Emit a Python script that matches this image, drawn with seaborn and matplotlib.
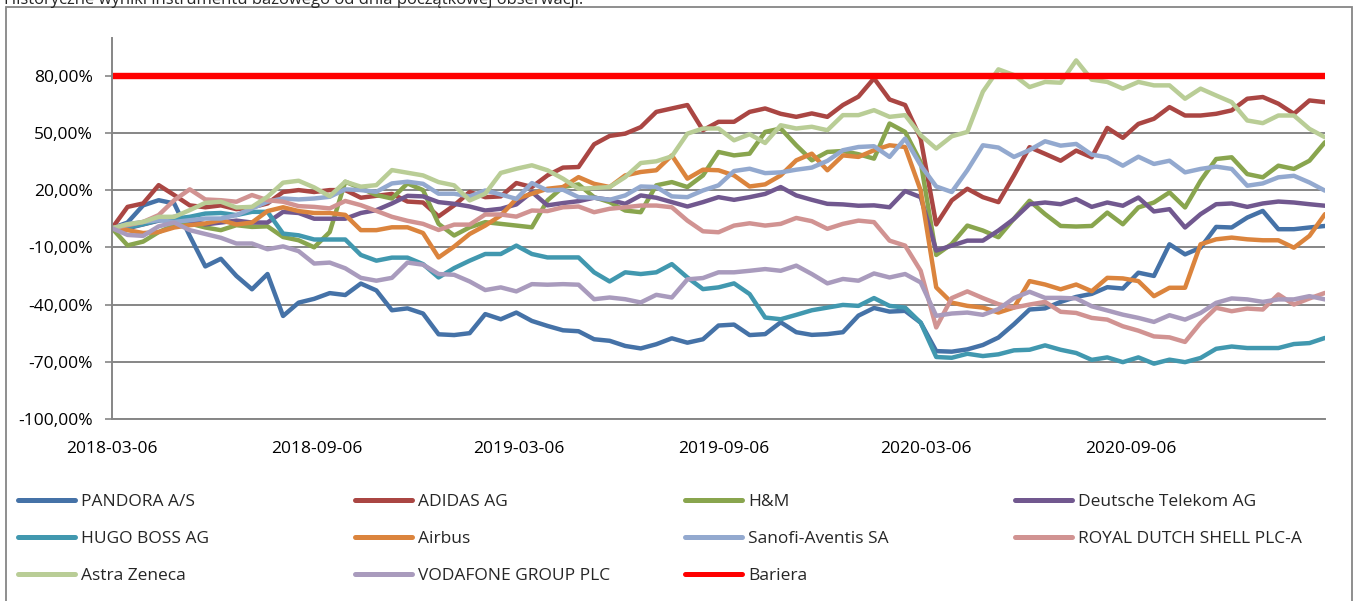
import numpy as np
import pandas as pd
import matplotlib
matplotlib.use("Agg")
import matplotlib.pyplot as plt
from matplotlib.lines import Line2D
from matplotlib.patches import Rectangle
from matplotlib.ticker import FuncFormatter
import seaborn as sns

# ---------------- data ----------------
START_DATE = "2018-03-06"
END_DATE = "2021-02-27"
N_POINTS = 79

series_names = ["PANDORA A/S", "ADIDAS AG", "H&M", "Deutsche Telekom AG",
                "HUGO BOSS AG", "Airbus", "Sanofi-Aventis SA", "ROYAL DUTCH SHELL PLC-A",
                "Astra Zeneca", "VODAFONE GROUP PLC"]
barrier_name = "Bariera"
barrier_level = 80.0

pandora = [0, 3, 12, 14.7, 13, -4, -20, -16, -25, -32, -24, -46, -39, -37, -34, -35, -29, -32.6, -43, -42,
           -44.7, -55.6, -56, -55, -45, -47.7, -44.2, -48.6, -51.2, -53.5, -54, -58.2, -59, -61.7, -63, -60.8, -57.7, -60, -58.2, -51,
           -50.5, -56, -55.5, -49.3, -54.5, -55.9, -55.5, -54.5, -45.8, -41.8, -43.7, -43.3, -49.5, -64.4, -64.7, -63.5, -61.2, -57.3, -50.3,
           -42.6, -42, -38.6, -36, -34.4, -30.9, -31.6, -23.3, -25, -8.4, -13.7, -10.2, 0.7, 0.4, 5.6, 9.1, -0.5, -0.5, 0.4, 1.2]
adidas = [0, 11.2, 13, 22.6, 17.4, 12, 11, 12, 10, 11, 13, 19, 20, 19, 20, 20, 16, 17, 18, 14,
          13.5, 6.2, 12, 19, 16.3, 16.7, 23.7, 21.6, 27.7, 31.8, 32.1, 44, 48.4, 49.6, 53, 61, 62.8, 64.6, 51.4, 55.8,
          55.8, 61, 62.8, 60, 58.4, 60.2, 58.4, 64.6, 69, 78.6, 67.5, 64.6, 47, 2, 14.6, 20.7, 16.3, 13.7, 27.7,
          42.5, 39, 35.4, 40.7, 37.2, 52.6, 47.4, 54.7, 57.4, 63.5, 59.1, 59.1, 60, 61.8, 67.9, 68.8, 65.3, 60, 67, 66.1]
hm = [0, -9, -7, -2, 1.6, 2.5, 0.4, -1, 1.6, 0.7, 1, -4.6, -6.3, -10, -2, 24.4, 21, 17.4, 15.6, 23.5,
      20, 2.3, -3.8, 0.5, 3.2, 2.3, 1.4, 0.5, 14.6, 21.6, 23, 16.3, 13.7, 9.3, 8.4, 22.5, 24.2, 21.6, 27.7, 40,
      38.2, 39.1, 50.5, 52.3, 43.5, 35.6, 40, 40.5, 38.8, 36.5, 54.9, 50.5, 34.7, -14, -8.2, 1.4, -1.2, -4.7, 5,
      14.4, 7.4, 1.2, 0.9, 1.2, 8.2, 2.1, 10.9, 13.5, 18.8, 10.9, 24.9, 36.3, 37.2, 28.4, 26.7, 32.8, 31.1, 35.4, 45.1]
telekom = [0, 0, 2, 4, 6, 4, 2, 3, 4, 3, 3, 8.6, 8, 5, 5, 5, 8, 9.5, 13, 17,
           16.7, 13.7, 12.8, 11.4, 9.3, 10.2, 12.5, 19, 12, 13.2, 14.2, 16, 14.9, 12.8, 17.2, 16, 13.7, 11.4, 13.7, 16.3,
           14.9, 16.3, 18, 21.6, 17.2, 14.9, 12.8, 12.5, 11.8, 12, 11, 19.5, 16.3, -11.7, -9.1, -6.5, -6.5, -1.2, 4.9,
           12.6, 13.5, 12.6, 15.3, 11.2, 13.5, 11.8, 16.1, 8.8, 10, 0.4, 7.4, 12.6, 13, 11.2, 13, 14, 13.5, 12.6, 11.8]
hugo_boss = [0, 0.4, 2.1, 4.2, 5, 6, 7.7, 8, 6.9, 8.6, 8.6, -2.8, -3.7, -5.9, -5.9, -5.9, -14, -17, -15.4, -15.4,
             -18.8, -25.8, -20.9, -17, -13.5, -13.5, -9.1, -13.5, -15.3, -15.3, -15.3, -23.1, -27.9, -23.1, -24, -23.1, -18.8, -25.8, -31.9, -31,
             -28.9, -34.5, -46.8, -47.7, -45.4, -43, -41.6, -40.2, -40.7, -36.6, -40.7, -41.6, -49.5, -67.5, -67.9, -65.8, -67, -66.1, -64,
             -63.7, -61.4, -63.7, -65.4, -69, -67.7, -70.2, -67.7, -71, -68.9, -70.2, -68, -63.2, -62, -62.8, -62.8, -62.8, -60.7, -60.2, -57.5]
airbus = [0, -1, -2.5, -2, 0.4, 1.6, 2.5, 4.2, 2, 3, 9, 11, 9, 8, 8, 7, -1, -1, 0.5, 0.5,
          -2.5, -15.3, -9.6, -3, 1.4, 6.7, 15.4, 18.1, 20.7, 21.6, 26.8, 23.3, 21.6, 27.7, 29.5, 30.4, 38.2, 26, 30.7, 30.4,
          27.7, 21.9, 23, 27.7, 35.6, 39.1, 30.4, 38.2, 37.4, 40.9, 43.5, 42.6, 19.8, -31, -39, -40.7, -41.6, -44.2, -41.6,
          -27.7, -29.5, -32, -29.5, -33, -26, -26.3, -27.7, -35.6, -31.2, -31.2, -8.4, -5.8, -4.9, -5.8, -6.3, -6.3, -10.2, -4, 7.4]
sanofi = [0, 2.1, 3.3, 4.2, 3.3, 4.2, 5.1, 5.1, 6.9, 10.4, 13.9, 15.6, 15.1, 15.6, 16.5, 20.4, 20, 19.1, 23.5, 24.4,
          23.3, 18.1, 18.1, 16.7, 19.8, 17.7, 15.4, 23.7, 19.8, 20.2, 16.3, 16, 14.9, 17.2, 21.9, 21.6, 16.7, 16.3, 19.8, 22.5,
          30, 31.2, 28.9, 29.3, 30.7, 31.8, 35.3, 40.9, 42.6, 43, 37.4, 47, 33, 21.9, 19, 30.4, 43.5, 42.3, 37.4,
          41, 45.6, 43.3, 44.2, 38.6, 37.2, 32.8, 37.5, 33.7, 35.4, 29.3, 31.1, 32.3, 31.1, 22.3, 23.5, 26.7, 27.5, 24, 19.7]
shell = [0, 1.6, 3.3, 6.9, 14.7, 20.4, 15.1, 14.7, 13.9, 17.4, 14.7, 13.9, 11.6, 11.2, 10.4, 14.3, 12.1, 9.1, 6, 3.9,
         2.3, -0.9, 1.9, 1.9, 7.2, 7.2, 6.1, 9.3, 9, 11, 11.4, 8.4, 10.2, 11, 11.9, 11.9, 11, 4, -1.6, -2.1,
         1.4, 2.6, 1.4, 2.3, 5.4, 3.7, -0.3, 2.3, 4, 3.2, -6.5, -9.1, -22.3, -52, -36.6, -33.1, -36.6, -39.8, -41.6,
         -40, -38.6, -43.8, -44.4, -47, -47.9, -51.4, -53.7, -56.7, -57.2, -59.6, -49.6, -41.7, -43.5, -42.1, -42.6, -34.7, -40, -36.8, -33.9]
astra = [0, 2.1, 3.3, 6, 6, 9.5, 13.3, 13.9, 10.9, 11.2, 16.5, 23.9, 24.9, 21.4, 16.8, 24.4, 21.8, 22.6, 30.5, 29.1,
         27.7, 24.2, 22.5, 14.6, 18.1, 29, 31.2, 33, 30.4, 26, 20.7, 21.1, 21.6, 26.8, 34.2, 35.1, 37.7, 49.6, 52.3, 52.3,
         46.1, 49.3, 44.7, 54, 52.3, 53.2, 51.4, 59.3, 59.3, 61.9, 58.4, 59.3, 48.8, 41.8, 48.2, 50.5, 71.6, 83.3, 80.3,
         74, 76.7, 76.3, 88, 77.9, 76.7, 73.2, 76.7, 74.9, 74.9, 67.9, 73.2, 69.6, 66.1, 56.5, 55.1, 59.1, 59.1, 52.1, 47.7]
vodafone = [0, -3.5, -4, 1, 3, -1, -3, -5, -8, -8, -11, -9.5, -12, -18.5, -18, -21, -26, -27.5, -26, -18,
            -19.1, -24, -24.4, -27.9, -32.4, -31, -33.1, -29.3, -29.6, -29.3, -29.6, -37.2, -36.3, -37.2, -38.9, -34.9, -36.3, -26.8, -26.1, -23.1,
            -23.1, -22.3, -21.4, -22.3, -19.6, -24, -28.9, -26.6, -27.5, -23.7, -25.8, -24, -28.4, -45.9, -44.7, -44.2, -45.4, -42.4, -36.6,
            -33.3, -36.5, -36.5, -36.8, -40.9, -43.1, -45.3, -47, -49.1, -45.6, -47.9, -44.4, -39.1, -36.8, -37.3, -38.6, -37.3, -37.3, -35.6, -37.3]

xtick_labels = ["2018-03-06", "2018-09-06", "2019-03-06", "2019-09-06", "2020-03-06", "2020-09-06"]
ytick_values = [-100, -70, -40, -10, 20, 50, 80]

# ---------------- style ----------------
series_colors = ["#4572A7", "#AA4643", "#89A54E", "#71588F", "#4198AF",
                 "#DB843D", "#93A9CF", "#D19392", "#B9CD96", "#A99BBD"]
barrier_color = "#FF0000"
grid_color = "#868686"

sns.set_style("white")
plt.rcParams["font.family"] = ["Open Sans", "DejaVu Sans"]

W, H = 1358, 601
fig = plt.figure(figsize=(W / 100, H / 100), dpi=100)
ax = fig.add_axes([112 / W, 1 - 419 / H, (1325 - 112) / W, (419 - 37.5) / H])

dates = pd.date_range(START_DATE, END_DATE, periods=N_POINTS)
all_series = [pandora, adidas, hm, telekom, hugo_boss, airbus, sanofi, shell, astra, vodafone]
frames = [pd.DataFrame({"date": dates, "value": vals, "series": name})
          for name, vals in zip(series_names, all_series)]
df = pd.concat(frames, ignore_index=True)
palette = dict(zip(series_names, series_colors))

sns.lineplot(data=df, x="date", y="value", hue="series", hue_order=series_names,
             palette=palette, linewidth=3.2, estimator=None, sort=False,
             legend=False, ax=ax)
for ln in ax.get_lines():
    ln.set_solid_joinstyle("round")
    ln.set_solid_capstyle("round")
ax.axhline(barrier_level, color=barrier_color, linewidth=4.6, solid_capstyle="butt")

ax.set_xlim(dates[0], dates[-1])
ax.set_ylim(-100, 100)
ax.set_yticks(ytick_values)
ax.yaxis.set_major_formatter(FuncFormatter(lambda v, p: f"{v:.2f}".replace(".", ",") + "%"))
ax.set_xticks(pd.to_datetime(xtick_labels))
ax.set_xticklabels(xtick_labels)
ax.set_xlabel("")
ax.set_ylabel("")

ax.set_axisbelow(True)
ax.yaxis.grid(True, color=grid_color, linewidth=1.4)
ax.xaxis.grid(False)
for s in ["top", "right"]:
    ax.spines[s].set_visible(False)
for s in ["left", "bottom"]:
    ax.spines[s].set_color(grid_color)
    ax.spines[s].set_linewidth(1.4)
ax.tick_params(axis="y", direction="out", length=5, width=1.2, color=grid_color,
               pad=9, labelsize=12.5, labelcolor="black", left=True)
ax.tick_params(axis="x", length=0, pad=16, labelsize=12.5, labelcolor="black", bottom=True)

# legend: 4 columns placed like the original (row-major order)
handles = [Line2D([], [], color=c, linewidth=3.6, solid_capstyle="round") for c in series_colors]
handles.append(Line2D([], [], color=barrier_color, linewidth=3.6, solid_capstyle="round"))
labels = series_names + [barrier_name]
col_x = [18, 355, 685, 1015]
for c in range(4):
    idx = [i for i in (c, c + 4, c + 8) if i < len(labels)]
    fig.legend([handles[i] for i in idx], [labels[i] for i in idx],
               loc="upper left", bbox_to_anchor=(col_x[c] / W, 1 - 494 / H),
               frameon=False, borderpad=0, borderaxespad=0,
               handlelength=3.3, handletextpad=0.35, labelspacing=1.2,
               fontsize=12.5)

# outer frame and clipped title (the reference shows it cut at the top edge)
fig.add_artist(Rectangle((6 / W, -0.02), (1352 - 6) / W, 1.02 - 7 / H,
                         transform=fig.transFigure, fill=False,
                         edgecolor=grid_color, linewidth=1.3))
fig.text(4 / W, 1 - 4 / H, "Historyczne wyniki instrumentu bazowego od dnia początkowej obserwacji.",
         fontsize=12, ha="left", va="baseline")

fig.savefig("out.png", dpi=100)
